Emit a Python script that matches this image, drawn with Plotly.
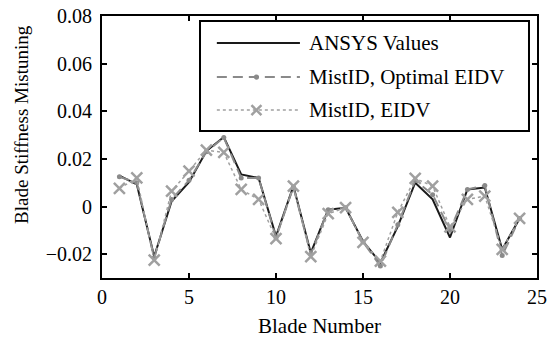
import plotly.graph_objects as go

blades = list(range(1, 25))
ansys = [0.013, 0.0093, -0.021, 0.0022, 0.0102, 0.0233, 0.0292, 0.0135, 0.012, -0.0125,
         0.0086, -0.0195, -0.0013, -0.0005, -0.0146, -0.0236, -0.0083, 0.0100, 0.0030, -0.0130,
         0.0072, 0.0080, -0.0180, -0.0050]
optimal = [0.0125, 0.0100, -0.0215, 0.0030, 0.0110, 0.0230, 0.0290, 0.0120, 0.0120, -0.0130,
           0.0082, -0.0200, -0.0013, -0.0005, -0.0148, -0.0250, -0.0076, 0.0110, 0.0050, -0.0100,
           0.0072, 0.0088, -0.0206, -0.0050]
eidv = [0.0076, 0.0120, -0.0225, 0.0065, 0.0149, 0.0237, 0.0227, 0.0072, 0.0030, -0.0135,
        0.0086, -0.0210, -0.0030, -0.0005, -0.0150, -0.0229, -0.0024, 0.0118, 0.0086, -0.0085,
        0.0030, 0.0044, -0.0180, -0.0050]

xticks = [0, 5, 10, 15, 20, 25]
yticks = [-0.02, 0, 0.02, 0.04, 0.06, 0.08]
yticktext = ["\u22120.02", "0", "0.02", "0.04", "0.06", "0.08"]
names = ["ANSYS Values", "MistID, Optimal EIDV", "MistID, EIDV"]
ytitle = "Blade Stiffness Mistuning"

FONT = "Liberation Serif, Times New Roman, serif"
BLACK = "#1a1a1a"
GRAY = "#8a8a8a"
LGRAY = "#a0a0a0"

fig = go.Figure()
fig.add_trace(go.Scatter(x=blades, y=ansys, mode="lines", name=names[0],
                         line=dict(color=BLACK, width=2)))
fig.add_trace(go.Scatter(x=blades, y=optimal, mode="lines+markers", name=names[1],
                         line=dict(color=GRAY, width=2, dash="10px,6px"),
                         marker=dict(symbol="circle", size=5, color=GRAY)))
fig.add_trace(go.Scatter(x=blades, y=eidv, mode="lines+markers", name=names[2],
                         line=dict(color=LGRAY, width=1.5, dash="dot"),
                         marker=dict(symbol="x-thin", size=11, color=LGRAY,
                                     line=dict(color=LGRAY, width=2.5))))

# manual legend (paper coordinates)
lx0, lx1, ly0, ly1 = 0.2253, 0.9816, 0.561, 0.981
shapes = [dict(type="rect", xref="paper", yref="paper", x0=lx0, x1=lx1, y0=ly0, y1=ly1,
               line=dict(color="black", width=2), fillcolor="white", layer="above")]
rows = [0.897, 0.767, 0.641]
sx0, sx1, mx, tx = 0.264, 0.455, 0.355, 0.471
shapes.append(dict(type="line", xref="paper", yref="paper", x0=sx0, x1=sx1, y0=rows[0], y1=rows[0],
                   line=dict(color=BLACK, width=2), layer="above"))
shapes.append(dict(type="line", xref="paper", yref="paper", x0=sx0, x1=sx1, y0=rows[1], y1=rows[1],
                   line=dict(color=GRAY, width=2, dash="10px,6px"), layer="above"))
shapes.append(dict(type="line", xref="paper", yref="paper", x0=sx0, x1=sx1, y0=rows[2], y1=rows[2],
                   line=dict(color=LGRAY, width=1.5, dash="dot"), layer="above"))
shapes.append(dict(type="circle", xref="paper", yref="paper",
                   x0=mx - 0.006, x1=mx + 0.006, y0=rows[1] - 0.01, y1=rows[1] + 0.01,
                   fillcolor=GRAY, line=dict(color=GRAY, width=0), layer="above"))
dx, dy = 0.0115, 0.019
shapes.append(dict(type="line", xref="paper", yref="paper", x0=mx - dx, x1=mx + dx,
                   y0=rows[2] - dy, y1=rows[2] + dy, line=dict(color=LGRAY, width=2.5), layer="above"))
shapes.append(dict(type="line", xref="paper", yref="paper", x0=mx - dx, x1=mx + dx,
                   y0=rows[2] + dy, y1=rows[2] - dy, line=dict(color=LGRAY, width=2.5), layer="above"))
annotations = []
for nm, ry in zip(names, rows):
    annotations.append(dict(text=nm, xref="paper", yref="paper", x=tx, y=ry, xanchor="left",
                            yanchor="middle", showarrow=False,
                            font=dict(family=FONT, size=21, color="black")))
annotations.append(dict(text=ytitle, xref="paper", yref="paper", x=-0.184, y=0.588,
                        xanchor="center", yanchor="middle", textangle=-90, showarrow=False,
                        font=dict(family=FONT, size=19, color="black")))

fig.update_layout(
    width=549, height=339,
    margin=dict(l=102, r=12, t=16, b=61),
    paper_bgcolor="white", plot_bgcolor="white",
    showlegend=False,
    font=dict(family=FONT, size=19, color="black"),
    shapes=shapes, annotations=annotations,
    xaxis=dict(range=[0, 25], tickvals=xticks, ticks="inside", ticklen=5, tickwidth=1.5,
               tickcolor="black", showline=True, linecolor="black", linewidth=2, mirror="ticks",
               showgrid=False, zeroline=False, automargin=False,
               title=dict(text="Blade Number", font=dict(family=FONT, size=21), standoff=11),
               tickfont=dict(family=FONT, size=20)),
    yaxis=dict(range=[-0.03, 0.08], tickvals=yticks, ticktext=yticktext, ticks="inside", ticklen=5,
               tickwidth=1.5, tickcolor="black", showline=True, linecolor="black", linewidth=2,
               mirror="ticks", showgrid=False, zeroline=False, automargin=False,
               ticklabelstandoff=4,
               tickfont=dict(family=FONT, size=20)),
)

fig.write_html("out.html")
